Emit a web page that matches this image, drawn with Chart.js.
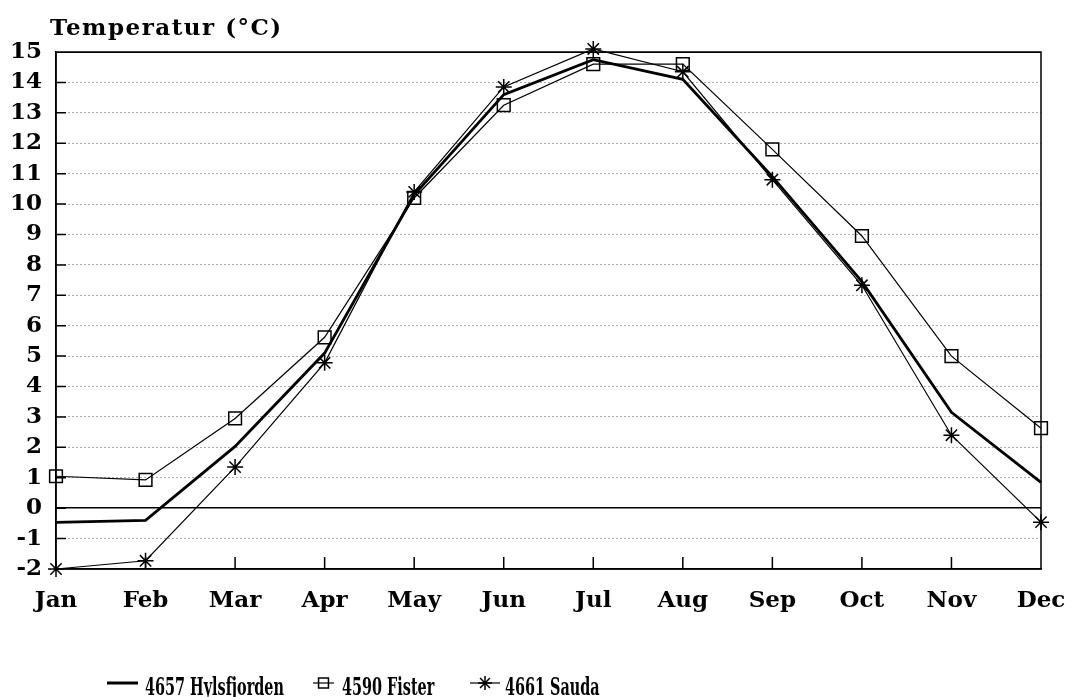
<!DOCTYPE html>
<html><head><meta charset="utf-8">
<script src="https://cdn.jsdelivr.net/npm/chart.js@4/dist/chart.umd.min.js"></script>
<style>html,body{margin:0;padding:0;background:#fff;}#wrap{width:1071px;height:697px;}</style>
</head><body><div id="wrap"><canvas id="c" width="1071" height="697"></canvas></div>
<script>
const months = ['Jan','Feb','Mar','Apr','May','Jun','Jul','Aug','Sep','Oct','Nov','Dec'];
const hylsfjorden = [-0.47, -0.4, 2.03, 5.1, 10.3, 13.6, 14.75, 14.1, 10.9, 7.45, 3.15, 0.85];
const fister = [1.05, 0.93, 2.95, 5.62, 10.2, 13.25, 14.6, 14.6, 11.8, 8.95, 5.0, 2.63];
const sauda = [-2.0, -1.73, 1.35, 4.78, 10.4, 13.85, 15.1, 14.35, 10.8, 7.33, 2.4, -0.46];
const seriesNames = ['4657 Hylsfjorden', '4590 Fister', '4661 Sauda'];
const yTitle = 'Temperatur (°C)';
const yMin = -2, yMax = 15;

const FONT = '"DejaVu Serif", serif';
const BOLD23 = {family: FONT, size: 23, weight: 'bold'};

function drawMarker(ctx, style, x, y, r) {
  ctx.save();
  ctx.strokeStyle = '#000';
  ctx.lineWidth = 1.5;
  ctx.beginPath();
  if (style === 'rect') {
    const s = r * Math.SQRT1_2;
    ctx.rect(x - s, y - s, 2 * s, 2 * s);
  } else if (style === 'star') {
    for (let k = 0; k < 4; k++) {
      const a = k * Math.PI / 4;
      ctx.moveTo(x - r * Math.cos(a), y - r * Math.sin(a));
      ctx.lineTo(x + r * Math.cos(a), y + r * Math.sin(a));
    }
  }
  ctx.stroke();
  ctx.restore();
}

function narrowText(ctx, text, x, y, sx) {
  ctx.save();
  ctx.translate(x, y);
  ctx.scale(sx, 1);
  ctx.fillText(text, 0, 0);
  ctx.restore();
}

const decor = {
  id: 'decor',
  beforeDatasetsDraw(chart) {
    const {ctx, chartArea: a, scales} = chart;
    ctx.save();
    ctx.strokeStyle = '#000';
    ctx.lineWidth = 1.5;
    ctx.strokeRect(a.left, a.top, a.right - a.left, a.bottom - a.top);
    ctx.beginPath();
    for (let i = 1; i < months.length - 1; i++) {
      const x = scales.x.getPixelForValue(i);
      ctx.moveTo(x, a.bottom);
      ctx.lineTo(x, a.bottom - 12);
    }
    for (let v = yMin + 1; v < yMax; v++) {
      const y = scales.y.getPixelForValue(v);
      ctx.moveTo(a.left, y);
      ctx.lineTo(a.left + 10, y);
    }
    ctx.stroke();
    ctx.restore();
  },
  afterDraw(chart) {
    const {ctx} = chart;
    ctx.save();
    ctx.fillStyle = '#000';
    ctx.font = 'bold 23px ' + FONT;
    ctx.textBaseline = 'alphabetic';
    ctx.textAlign = 'left';
    ctx.letterSpacing = '1.5px';
    ctx.fillText(yTitle, 50, 35);
    ctx.letterSpacing = '0px';

    // legend
    const ly = 683, ty = 695, sx = 0.6;
    ctx.font = 'bold 24px ' + FONT;
    ctx.strokeStyle = '#000';
    ctx.lineWidth = 3;
    ctx.beginPath(); ctx.moveTo(107, ly); ctx.lineTo(138, ly); ctx.stroke();
    narrowText(ctx, seriesNames[0], 145, ty, sx);
    ctx.lineWidth = 1.2;
    ctx.beginPath(); ctx.moveTo(313, ly); ctx.lineTo(334, ly); ctx.stroke();
    drawMarker(ctx, 'rect', 323.5, ly, 7);
    narrowText(ctx, seriesNames[1], 342, ty, sx);
    ctx.lineWidth = 1.2;
    ctx.beginPath(); ctx.moveTo(470, ly); ctx.lineTo(500, ly); ctx.stroke();
    drawMarker(ctx, 'star', 485, ly, 7);
    narrowText(ctx, seriesNames[2], 505, ty, sx);
    ctx.restore();
  }
};

new Chart(document.getElementById('c'), {
  type: 'line',
  data: {
    labels: months,
    datasets: [
      {label: seriesNames[0], data: hylsfjorden, borderColor: '#000', borderWidth: 2.8, pointRadius: 0, tension: 0, clip: false},
      {label: seriesNames[1], data: fister, borderColor: '#000', borderWidth: 1.2, pointStyle: 'rect', pointRadius: 9, pointBorderWidth: 1.5, pointBorderColor: '#000', pointBackgroundColor: 'rgba(0,0,0,0)', tension: 0, clip: false},
      {label: seriesNames[2], data: sauda, borderColor: '#000', borderWidth: 1.2, pointStyle: 'star', pointRadius: 8, pointBorderWidth: 1.5, pointBorderColor: '#000', pointBackgroundColor: 'rgba(0,0,0,0)', tension: 0, clip: false}
    ]
  },
  options: {
    responsive: false,
    animation: false,
    devicePixelRatio: 1,
    layout: {padding: {top: 52, right: 30, left: 0, bottom: 0}},
    plugins: {legend: {display: false}, title: {display: false}, tooltip: {enabled: false}},
    scales: {
      x: {
        type: 'category',
        offset: false,
        grid: {display: false, drawTicks: false},
        border: {display: true, color: '#000', width: 1.5},
        ticks: {color: '#000', font: BOLD23, padding: 18, maxRotation: 0, autoSkip: false},
        afterFit(s) { s.height = 128; s.paddingLeft = 0; s.paddingRight = 0; }
      },
      y: {
        min: yMin, max: yMax,
        grid: {
          drawTicks: false,
          color: c => (c.tick && (c.tick.value === 0 || c.tick.value === yMax)) ? '#000' : '#555',
          lineWidth: c => (c.tick && c.tick.value === 0) ? 1.5 : 1
        },
        border: {
          display: true, color: '#000', width: 1.5,
          dash: c => (c.tick && (c.tick.value === 0 || c.tick.value === yMax)) ? [] : [1, 3]
        },
        ticks: {stepSize: 1, color: '#000', font: BOLD23, padding: 14, autoSkip: false},
        afterFit(s) { s.width = 56; }
      }
    }
  },
  plugins: [decor]
});
</script>
</body></html>
